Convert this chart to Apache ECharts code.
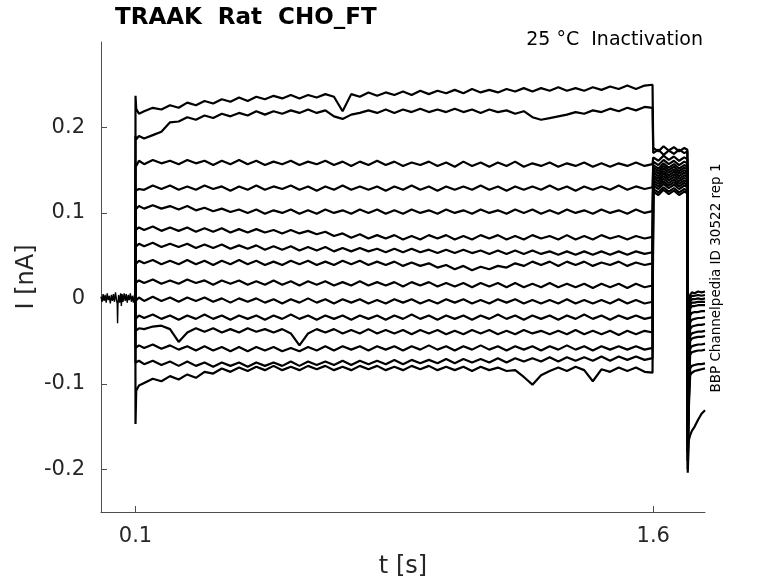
<!DOCTYPE html>
<html><head><meta charset="utf-8">
<script src="https://cdn.jsdelivr.net/npm/echarts@6/dist/echarts.min.js"></script>
<style>html,body{margin:0;padding:0;background:#fff}#c{width:778px;height:583px}</style>
</head><body><div id="c"></div>
<script>
// ---- data (t in s, I in nA) ----
const xTicks = [0.1, 1.6];
const yTicks = [-0.2, -0.1, 0, 0.1, 0.2];

// holding segment before the step (all sweeps overlap here)
const holdT = [0.000,0.003,0.006,0.009,0.012,0.015,0.018,0.021,0.024,0.027,0.030,0.033,0.036,0.039,0.042,0.045,0.047,0.048,0.049,0.051,0.054,0.057,0.059,0.061,0.064,0.067,0.070,0.073,0.076,0.079,0.082,0.085,0.088,0.091,0.094,0.097,0.0995];
const holdI = [0.002,-0.004,0.005,-0.003,0.004,-0.005,0.006,-0.002,0.003,-0.006,0.004,-0.003,0.005,-0.004,0.007,-0.002,-0.006,-0.029,-0.008,0.004,-0.005,0.006,-0.009,0.005,-0.004,0.006,-0.003,0.005,-0.005,0.004,-0.002,0.006,-0.004,0.003,-0.005,0.004,0.000];

// sample times of the sweeps
const stepT = [0.0995,0.1,0.102,0.11,
 0.125,0.15,0.175,0.2,0.225,0.25,0.275,0.3,0.325,0.35,
 0.375,0.4,0.425,0.45,0.475,0.5,0.525,0.55,0.575,0.6,
 0.625,0.65,0.675,0.7,0.725,0.75,0.775,0.8,0.825,0.85,
 0.875,0.9,0.925,0.95,0.975,1.0,1.025,1.05,1.075,1.1,
 1.125,1.15,1.175,1.2,1.225,1.25,1.275,1.3,1.325,1.35,
 1.375,1.4,1.425,1.45,1.475,1.5,1.525,1.55,1.575,
 1.598,
 1.6,1.615,1.63,1.645,1.66,1.675,1.69,1.699,
 1.7,1.703,1.707,1.712,1.72,1.73,1.74,1.75];

const sweep1 = [0,0.237,0.222,0.216,
 0.219,0.223,0.221,0.226,0.223,0.229,0.226,0.231,0.228,0.233,
 0.230,0.235,0.231,0.236,0.233,0.237,0.234,0.238,0.234,0.238,
 0.235,0.239,0.236,0.219,0.239,0.236,0.241,0.237,0.241,0.238,
 0.242,0.238,0.243,0.239,0.243,0.240,0.244,0.240,0.245,0.241,
 0.244,0.241,0.245,0.242,0.246,0.242,0.246,0.243,0.247,0.243,
 0.246,0.243,0.247,0.244,0.248,0.245,0.249,0.245,0.249,
 0.250,
 0.176,0.172,0.178,0.173,0.177,0.172,0.176,0.174,
 -0.12,-0.010,0.004,0.007,0.006,0.008,0.007,0.008];
const sweep2 = [0,0.190,0.186,0.190,
 0.187,0.191,0.195,0.206,0.207,0.212,0.209,0.214,0.211,0.216,
 0.213,0.217,0.214,0.219,0.215,0.219,0.216,0.220,0.217,0.221,
 0.217,0.220,0.213,0.210,0.215,0.217,0.220,0.217,0.221,0.217,
 0.221,0.218,0.222,0.218,0.221,0.218,0.222,0.218,0.221,0.217,
 0.221,0.218,0.220,0.216,0.219,0.212,0.209,0.211,0.213,0.215,
 0.218,0.216,0.220,0.218,0.222,0.219,0.223,0.220,0.224,
 0.223,
 0.170,0.174,0.168,0.173,0.169,0.174,0.170,0.172,
 -0.13,-0.020,0.000,0.003,0.003,0.004,0.003,0.004];
const sweep3 = [0,0.158,0.155,0.161,
 0.157,0.162,0.158,0.161,0.157,0.162,0.158,0.161,0.156,0.161,
 0.157,0.162,0.157,0.161,0.156,0.160,0.157,0.161,0.156,0.160,
 0.157,0.161,0.156,0.160,0.155,0.160,0.156,0.161,0.156,0.160,
 0.155,0.159,0.156,0.160,0.155,0.159,0.154,0.160,0.155,0.159,
 0.154,0.159,0.155,0.160,0.154,0.158,0.155,0.159,0.154,0.158,
 0.155,0.159,0.154,0.158,0.154,0.158,0.155,0.159,0.155,
 0.157,
 0.165,0.161,0.167,0.162,0.166,0.161,0.165,0.163,
 -0.14,-0.030,-0.004,-0.001,-0.001,0.000,-0.001,0.000];
const sweep4 = [0,0.126,0.124,0.128,
 0.127,0.132,0.128,0.132,0.127,0.131,0.127,0.132,0.128,0.131,
 0.126,0.131,0.127,0.132,0.127,0.131,0.128,0.132,0.127,0.131,
 0.126,0.131,0.127,0.132,0.127,0.131,0.127,0.131,0.126,0.131,
 0.127,0.132,0.127,0.131,0.126,0.131,0.127,0.131,0.127,0.132,
 0.127,0.131,0.126,0.131,0.127,0.131,0.127,0.132,0.127,0.131,
 0.126,0.131,0.127,0.131,0.127,0.132,0.127,0.131,0.128,
 0.130,
 0.160,0.156,0.162,0.157,0.161,0.156,0.160,0.158,
 -0.15,-0.035,-0.008,-0.005,-0.005,-0.004,-0.004,-0.004];
const sweep5 = [0,0.104,0.103,0.108,
 0.105,0.109,0.105,0.108,0.104,0.108,0.103,0.106,0.102,0.105,
 0.101,0.104,0.100,0.104,0.099,0.103,0.100,0.104,0.099,0.103,
 0.099,0.104,0.100,0.103,0.099,0.104,0.100,0.104,0.099,0.103,
 0.099,0.104,0.100,0.103,0.099,0.104,0.100,0.103,0.099,0.104,
 0.100,0.103,0.099,0.104,0.100,0.104,0.099,0.103,0.099,0.104,
 0.100,0.103,0.099,0.104,0.100,0.103,0.099,0.104,0.100,
 0.102,
 0.156,0.152,0.158,0.153,0.157,0.152,0.156,0.154,
 -0.15,-0.040,-0.012,-0.009,-0.009,-0.008,-0.008,-0.008];
const sweep6 = [0,0.080,0.078,0.083,
 0.080,0.084,0.079,0.083,0.079,0.083,0.078,0.082,0.078,0.082,
 0.077,0.081,0.077,0.081,0.077,0.080,0.076,0.080,0.076,0.079,
 0.075,0.078,0.073,0.076,0.071,0.075,0.070,0.074,0.070,0.074,
 0.069,0.073,0.069,0.074,0.070,0.074,0.069,0.073,0.069,0.074,
 0.070,0.074,0.069,0.073,0.069,0.074,0.070,0.073,0.069,0.074,
 0.069,0.073,0.069,0.074,0.070,0.073,0.069,0.073,0.070,
 0.072,
 0.153,0.149,0.155,0.150,0.154,0.149,0.153,0.151,
 -0.16,-0.050,-0.020,-0.017,-0.016,-0.016,-0.015,-0.015];
const sweep7 = [0,0.060,0.058,0.064,
 0.061,0.065,0.060,0.064,0.060,0.064,0.059,0.063,0.059,0.063,
 0.058,0.062,0.058,0.062,0.057,0.061,0.057,0.061,0.056,0.060,
 0.056,0.060,0.055,0.059,0.055,0.059,0.055,0.058,0.054,0.058,
 0.054,0.058,0.054,0.057,0.053,0.057,0.053,0.057,0.053,0.056,
 0.052,0.056,0.052,0.056,0.052,0.056,0.052,0.055,0.051,0.055,
 0.051,0.055,0.051,0.055,0.051,0.055,0.051,0.055,0.052,
 0.054,
 0.150,0.146,0.152,0.147,0.151,0.146,0.150,0.148,
 -0.16,-0.060,-0.028,-0.025,-0.024,-0.023,-0.023,-0.022];
const sweep8 = [0,0.040,0.039,0.044,
 0.041,0.045,0.040,0.044,0.040,0.045,0.040,0.044,0.039,0.044,
 0.040,0.045,0.040,0.044,0.039,0.043,0.039,0.044,0.040,0.044,
 0.039,0.043,0.039,0.044,0.040,0.044,0.039,0.043,0.039,0.043,
 0.038,0.042,0.038,0.041,0.036,0.039,0.034,0.038,0.033,0.037,
 0.034,0.038,0.036,0.041,0.038,0.043,0.039,0.043,0.038,0.043,
 0.039,0.043,0.038,0.042,0.039,0.043,0.038,0.042,0.039,
 0.041,
 0.147,0.143,0.149,0.144,0.148,0.143,0.147,0.145,
 -0.17,-0.070,-0.036,-0.033,-0.032,-0.031,-0.031,-0.030];
const sweep9 = [0,0.018,0.017,0.021,
 0.018,0.022,0.017,0.021,0.017,0.022,0.018,0.021,0.016,0.021,
 0.017,0.021,0.016,0.020,0.016,0.021,0.016,0.020,0.015,0.020,
 0.016,0.020,0.015,0.019,0.015,0.020,0.015,0.019,0.015,0.019,
 0.014,0.019,0.015,0.019,0.014,0.018,0.014,0.018,0.013,0.018,
 0.014,0.018,0.013,0.018,0.013,0.017,0.013,0.018,0.013,0.017,
 0.013,0.017,0.012,0.017,0.013,0.017,0.012,0.017,0.013,
 0.015,
 0.144,0.140,0.146,0.141,0.145,0.140,0.144,0.142,
 -0.17,-0.080,-0.044,-0.041,-0.040,-0.039,-0.039,-0.038];
const sweep10 = [0,-0.003,-0.004,0.001,
 -0.003,0.002,-0.003,0.001,-0.004,0.001,-0.003,0.001,-0.004,0.000,
 -0.005,0.000,-0.004,0.000,-0.005,-0.001,-0.006,-0.001,-0.005,0.000,
 -0.005,-0.001,-0.006,-0.001,-0.005,-0.001,-0.006,-0.002,-0.006,-0.001,
 -0.005,-0.001,-0.006,-0.002,-0.006,-0.001,-0.005,-0.001,-0.006,-0.002,
 -0.006,-0.001,-0.005,-0.001,-0.006,-0.002,-0.006,-0.002,-0.006,-0.001,
 -0.006,-0.002,-0.006,-0.002,-0.006,-0.001,-0.006,-0.002,-0.006,
 -0.004,
 0.141,0.137,0.143,0.138,0.142,0.137,0.141,0.139,
 -0.18,-0.090,-0.050,-0.047,-0.046,-0.045,-0.045,-0.044];
const sweep11 = [0,-0.024,-0.025,-0.020,
 -0.023,-0.019,-0.024,-0.020,-0.025,-0.020,-0.024,-0.019,-0.024,-0.020,
 -0.025,-0.020,-0.024,-0.020,-0.025,-0.020,-0.024,-0.019,-0.024,-0.020,
 -0.025,-0.020,-0.024,-0.020,-0.025,-0.020,-0.024,-0.020,-0.025,-0.020,
 -0.024,-0.019,-0.024,-0.020,-0.025,-0.020,-0.024,-0.020,-0.025,-0.020,
 -0.024,-0.019,-0.024,-0.020,-0.025,-0.020,-0.024,-0.020,-0.025,-0.020,
 -0.024,-0.019,-0.024,-0.020,-0.025,-0.020,-0.024,-0.020,-0.024,
 -0.022,
 0.138,0.134,0.140,0.135,0.139,0.134,0.138,0.136,
 -0.18,-0.100,-0.059,-0.056,-0.055,-0.054,-0.054,-0.053];
const sweep12 = [0,-0.038,-0.040,-0.035,
 -0.036,-0.033,-0.032,-0.036,-0.051,-0.040,-0.035,-0.039,-0.035,-0.040,
 -0.036,-0.040,-0.035,-0.039,-0.036,-0.040,-0.036,-0.041,-0.055,-0.041,
 -0.036,-0.040,-0.036,-0.041,-0.037,-0.041,-0.036,-0.041,-0.037,-0.041,
 -0.037,-0.042,-0.037,-0.041,-0.037,-0.042,-0.038,-0.042,-0.037,-0.041,
 -0.037,-0.042,-0.038,-0.042,-0.037,-0.041,-0.038,-0.042,-0.038,-0.042,
 -0.037,-0.042,-0.038,-0.042,-0.038,-0.043,-0.038,-0.042,-0.038,
 -0.040,
 0.135,0.131,0.137,0.132,0.136,0.131,0.135,0.133,
 -0.19,-0.110,-0.066,-0.063,-0.062,-0.061,-0.061,-0.060];
const sweep13 = [0,-0.058,-0.060,-0.055,
 -0.058,-0.054,-0.059,-0.055,-0.060,-0.056,-0.061,-0.056,-0.061,-0.057,
 -0.062,-0.057,-0.062,-0.057,-0.061,-0.057,-0.062,-0.058,-0.062,-0.057,
 -0.061,-0.056,-0.061,-0.056,-0.060,-0.056,-0.061,-0.056,-0.060,-0.056,
 -0.061,-0.056,-0.060,-0.055,-0.060,-0.056,-0.061,-0.056,-0.060,-0.055,
 -0.060,-0.056,-0.061,-0.056,-0.060,-0.056,-0.061,-0.056,-0.060,-0.055,
 -0.060,-0.056,-0.061,-0.056,-0.060,-0.056,-0.060,-0.056,-0.060,
 -0.058,
 0.132,0.128,0.134,0.129,0.133,0.128,0.132,0.130,
 -0.19,-0.120,-0.082,-0.079,-0.078,-0.077,-0.077,-0.076];
const sweep14 = [0,-0.075,-0.077,-0.073,
 -0.077,-0.073,-0.078,-0.074,-0.079,-0.074,-0.079,-0.075,-0.080,-0.075,
 -0.079,-0.075,-0.080,-0.075,-0.079,-0.075,-0.079,-0.074,-0.079,-0.074,
 -0.078,-0.074,-0.078,-0.073,-0.078,-0.073,-0.077,-0.073,-0.077,-0.072,
 -0.077,-0.072,-0.076,-0.072,-0.076,-0.071,-0.076,-0.071,-0.075,-0.071,
 -0.075,-0.070,-0.075,-0.070,-0.074,-0.070,-0.074,-0.069,-0.074,-0.069,
 -0.073,-0.069,-0.073,-0.068,-0.073,-0.068,-0.072,-0.068,-0.072,
 -0.070,
 0.128,0.124,0.130,0.125,0.129,0.124,0.128,0.126,
 -0.20,-0.130,-0.090,-0.087,-0.085,-0.084,-0.083,-0.082];
const sweep15 = [0,-0.147,-0.108,-0.102,
 -0.099,-0.094,-0.097,-0.091,-0.095,-0.089,-0.093,-0.086,-0.088,-0.082,
 -0.086,-0.081,-0.085,-0.080,-0.084,-0.079,-0.084,-0.080,-0.084,-0.079,
 -0.083,-0.079,-0.084,-0.080,-0.084,-0.079,-0.083,-0.079,-0.084,-0.080,
 -0.084,-0.079,-0.083,-0.079,-0.084,-0.080,-0.084,-0.080,-0.085,-0.080,
 -0.084,-0.081,-0.085,-0.084,-0.092,-0.101,-0.090,-0.085,-0.081,-0.085,
 -0.080,-0.084,-0.097,-0.083,-0.086,-0.081,-0.085,-0.081,-0.086,
 -0.087,
 0.125,0.121,0.127,0.122,0.126,0.121,0.125,0.123,
 -0.204,-0.166,-0.160,-0.155,-0.150,-0.142,-0.135,-0.131];

const sweeps = [sweep1,sweep2,sweep3,sweep4,sweep5,sweep6,sweep7,sweep8,sweep9,sweep10,sweep11,sweep12,sweep13,sweep14,sweep15];

// ---- chart ----
const FONT = 'DejaVu Sans';
const AX = '#4d4d4d';
const TXT = '#262626';
const chart = echarts.init(document.getElementById('c'), null, {renderer: 'canvas'});
const lineStyle = {color: '#000', width: 2.2};
const series = [{
  type: 'line', data: holdT.map((t, i) => [t, holdI[i]]),
  showSymbol: false, lineStyle: {color: '#000', width: 1.4}, silent: true
}].concat(sweeps.map(s => ({
  type: 'line', data: stepT.map((t, i) => [t, s[i]]),
  showSymbol: false, lineStyle: lineStyle, silent: true
})));

chart.setOption({
  animation: false,
  backgroundColor: '#fff',
  grid: {left: 101, right: 73, top: 42, bottom: 71, containLabel: false, outerBoundsMode: 'none'},
  xAxis: {
    type: 'value', min: 0, max: 1.75,
    axisLine: {show: true, onZero: false, lineStyle: {color: AX, width: 1}},
    axisTick: {show: true, inside: true, length: 6, customValues: xTicks, lineStyle: {color: AX}},
    axisLabel: {customValues: xTicks, fontFamily: FONT, fontSize: 21, color: TXT, margin: 14,
      formatter: v => String(v)},
    splitLine: {show: false},
    name: 't [s]', nameLocation: 'middle', nameGap: 43, nameMoveOverlap: false,
    nameTextStyle: {fontFamily: FONT, fontSize: 24, color: TXT}
  },
  yAxis: {
    type: 'value', min: -0.25, max: 0.3,
    axisLine: {show: true, onZero: false, lineStyle: {color: AX, width: 1}},
    axisTick: {show: true, inside: true, length: 6, customValues: yTicks, lineStyle: {color: AX}},
    axisLabel: {customValues: yTicks, fontFamily: FONT, fontSize: 21, color: TXT, margin: 16,
      formatter: v => String(Math.round(v * 10) / 10)},
    splitLine: {show: false},
    name: 'I [nA]', nameLocation: 'middle', nameGap: 62, nameRotate: 90, nameMoveOverlap: false,
    nameTextStyle: {fontFamily: FONT, fontSize: 24, color: TXT}
  },
  graphic: [
    {type: 'text', x: 115, y: 18, style: {text: 'TRAAK  Rat  CHO_FT', font: 'bold 23px "DejaVu Sans"', fill: '#000', align: 'left', verticalAlign: 'middle'}},
    {type: 'text', x: 703, y: 40, style: {text: '25 °C  Inactivation', font: '19px "DejaVu Sans"', fill: '#000', align: 'right', verticalAlign: 'middle'}},
    {type: 'text', x: 716, y: 278, rotation: Math.PI / 2, style: {text: 'BBP Channelpedia ID 30522 rep 1', font: '13.5px "DejaVu Sans"', fill: '#000', align: 'center', verticalAlign: 'middle'}}
  ],
  series: series
});
</script>
</body></html>
